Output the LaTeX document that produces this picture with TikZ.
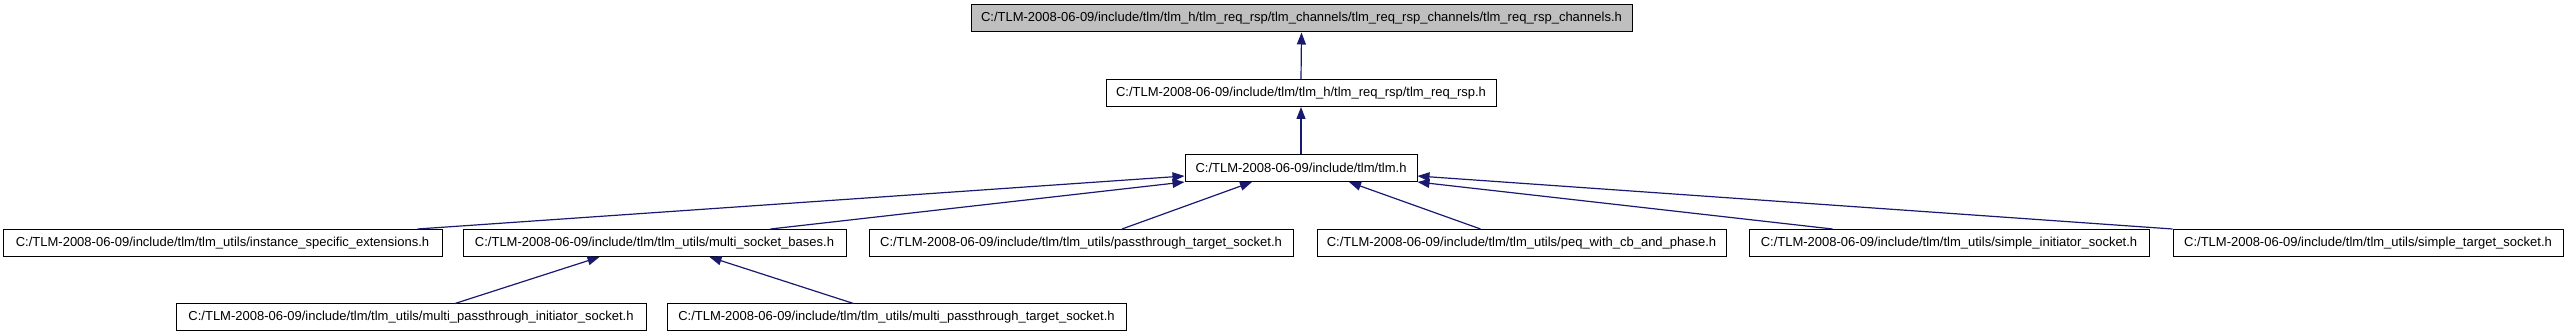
\documentclass[tikz,border=0pt]{standalone}
\usepackage{fontspec}
\setmainfont{Liberation Sans}
\usetikzlibrary{arrows.meta}
\definecolor{edgeblue}{RGB}{25,25,112}
\definecolor{rootgray}{RGB}{191,191,191}

\begin{document}
\begin{tikzpicture}[x=1pt,y=-1pt,
  hdr/.style={draw, rectangle, line width=1pt, inner sep=0pt, minimum height=27pt, font=\fontsize{13}{15}\selectfont},
  dep/.style={draw=edgeblue, line width=1.2pt, -{Triangle[length=12pt,width=9pt]}}]
\useasboundingbox (0,0) rectangle (2568,336);
\node[hdr, fill=rootgray, minimum width=661pt] (chan) at (1301.5,18.5) {C:/TLM-2008-06-09/include/tlm/tlm\_h/tlm\_req\_rsp/tlm\_channels/tlm\_req\_rsp\_channels/tlm\_req\_rsp\_channels.h};
\node[hdr, minimum width=390pt] (rsp) at (1301,93) {C:/TLM-2008-06-09/include/tlm/tlm\_h/tlm\_req\_rsp/tlm\_req\_rsp.h};
\node[hdr, minimum width=232pt] (tlm) at (1301,168) {C:/TLM-2008-06-09/include/tlm/tlm.h};
% utils row
\node[hdr, minimum width=439pt] (ise) at (222.5,243) {C:/TLM-2008-06-09/include/tlm/tlm\_utils/instance\_specific\_extensions.h};
\node[hdr, minimum width=383pt] (msb) at (654.5,243) {C:/TLM-2008-06-09/include/tlm/tlm\_utils/multi\_socket\_bases.h};
\node[hdr, minimum width=424pt] (pts) at (1081,243) {C:/TLM-2008-06-09/include/tlm/tlm\_utils/passthrough\_target\_socket.h};
\node[hdr, minimum width=409pt] (peq) at (1521.5,243) {C:/TLM-2008-06-09/include/tlm/tlm\_utils/peq\_with\_cb\_and\_phase.h};
\node[hdr, minimum width=400pt] (sis) at (1949,243) {C:/TLM-2008-06-09/include/tlm/tlm\_utils/simple\_initiator\_socket.h};
\node[hdr, minimum width=390pt] (sts) at (2368,243) {C:/TLM-2008-06-09/include/tlm/tlm\_utils/simple\_target\_socket.h};
% multi sockets
\node[hdr, minimum width=470pt] (mpis) at (411,317.5) {C:/TLM-2008-06-09/include/tlm/tlm\_utils/multi\_passthrough\_initiator\_socket.h};
\node[hdr, minimum width=459pt] (mpts) at (896.5,317.5) {C:/TLM-2008-06-09/include/tlm/tlm\_utils/multi\_passthrough\_target\_socket.h};
\draw[dep] (rsp.north) -- (chan.south);
\draw[dep] (tlm.north) -- (rsp.south);
\draw[dep] ([xshift=-25pt]ise.north east) -- ([yshift=-8pt]tlm.west);
\draw[dep] ([xshift=-76pt]msb.north east) -- (tlm.south west);
\draw[dep] ([xshift=41pt]pts.north) -- ([xshift=-49pt]tlm.south);
\draw[dep] ([xshift=-41pt]peq.north) -- ([xshift=48pt]tlm.south);
\draw[dep] ([xshift=84pt]sis.north west) -- (tlm.south east);
\draw[dep] (sts.north west) -- ([yshift=-8pt]tlm.east);
\draw[dep] ([xshift=44pt]mpis.north) -- ([xshift=-55pt]msb.south);
\draw[dep] ([xshift=-43pt]mpts.north) -- ([xshift=55pt]msb.south);
\end{tikzpicture}
\end{document}
